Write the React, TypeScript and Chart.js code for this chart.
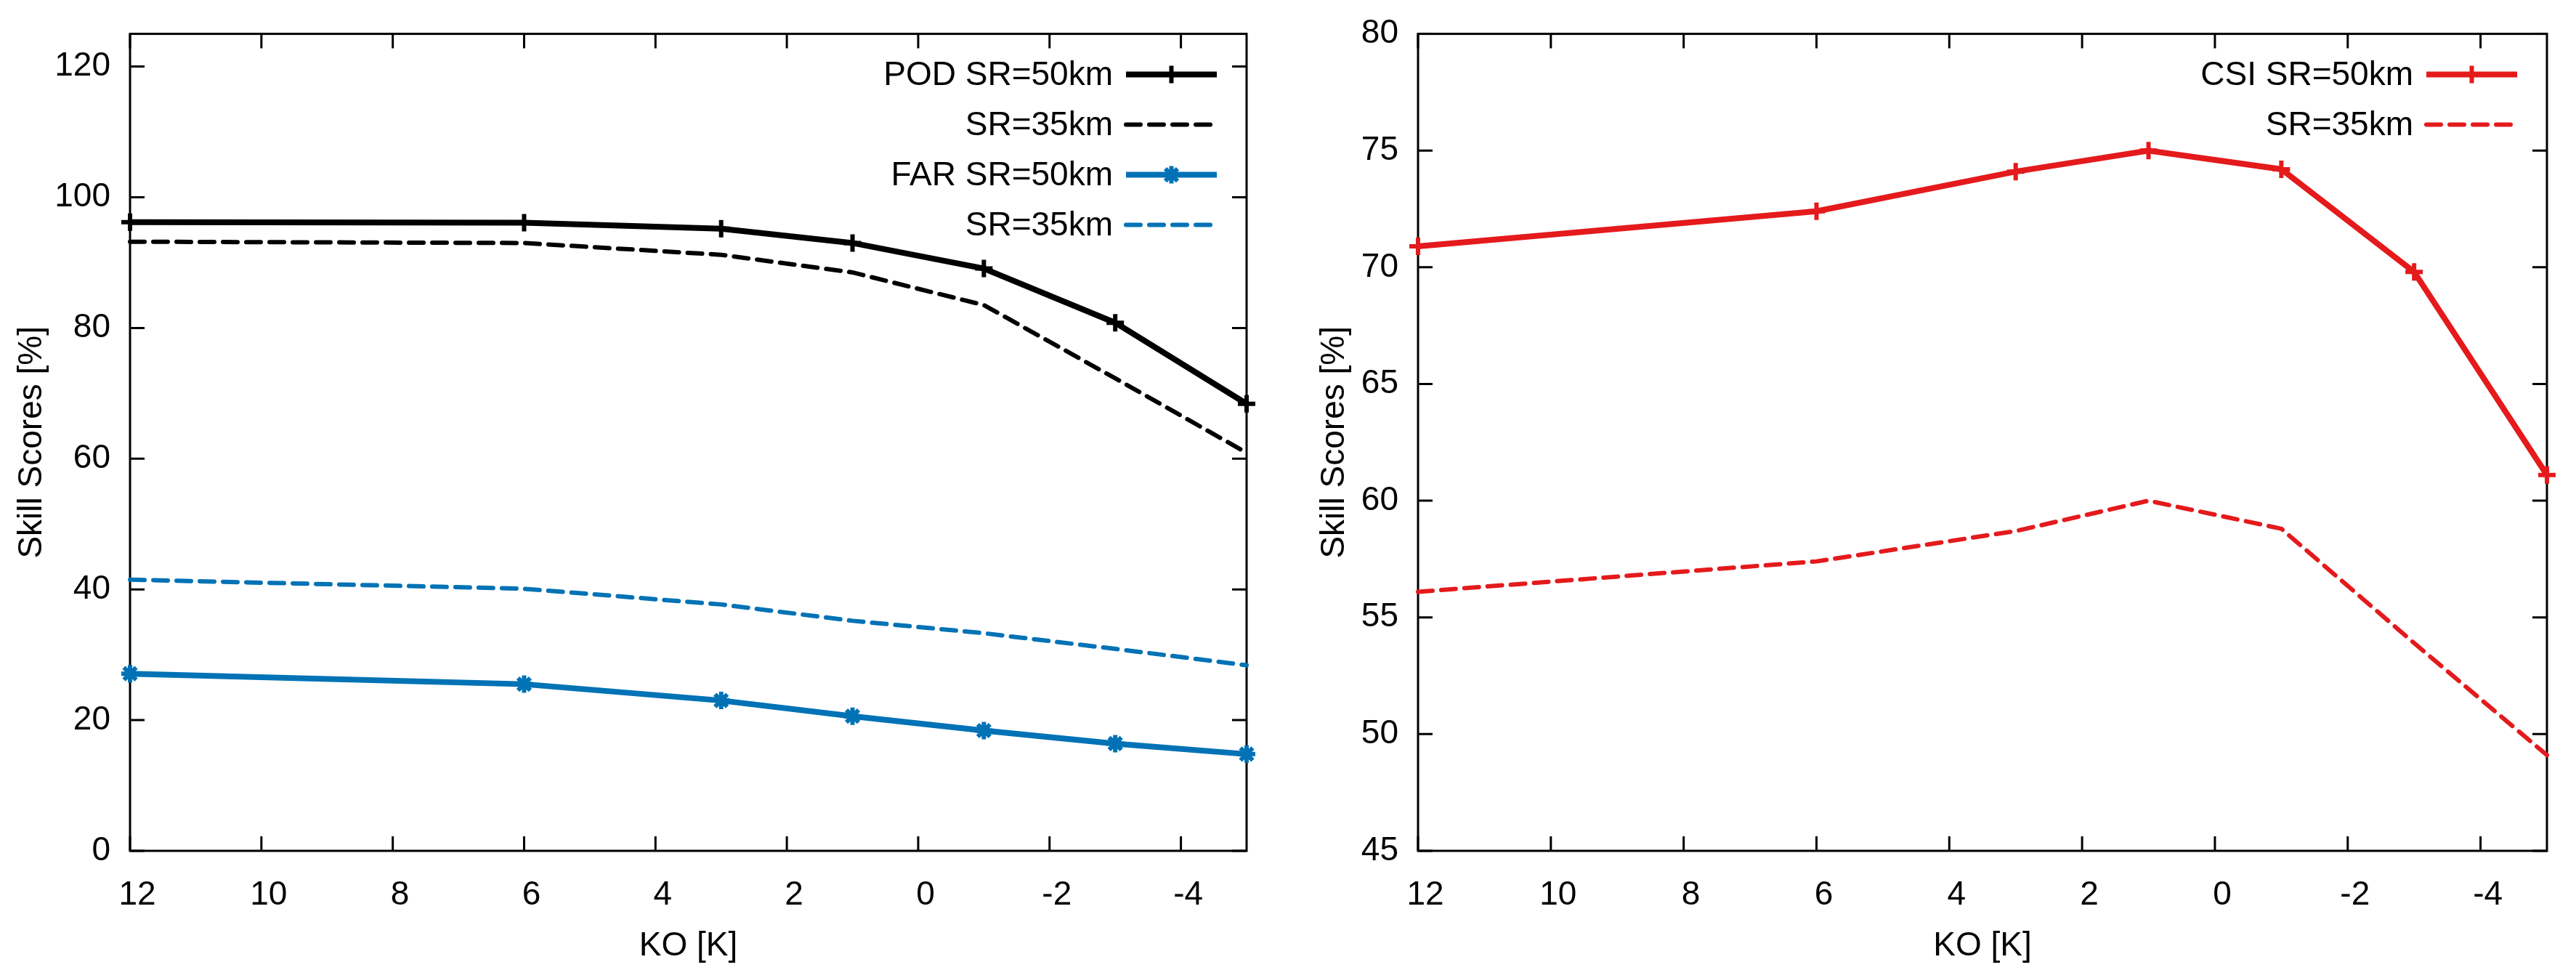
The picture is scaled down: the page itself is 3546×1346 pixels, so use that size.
import { useEffect, useRef } from 'react'
import { Chart, registerables } from 'chart.js'
import { drawPoint } from 'chart.js/helpers'

Chart.register(...registerables)

const FONT = '"Liberation Sans", Arial, Helvetica, sans-serif'
const BLUE = '#0072b5'
const RED = '#e41a1c'

// KO index values (x) shared by every series
const koValues = [12, 6, 3, 1, -1, -3, -5]
const koTicks = [12, 10, 8, 6, 4, 2, 0, -2, -4]

// left panel: POD / FAR
const podSr50 = [96.2, 96.1, 95.2, 93.0, 89.1, 80.8, 68.4]
const podSr35 = [93.2, 93.0, 91.2, 88.5, 83.5, 72.3, 60.9]
const farSr50 = [27.1, 25.5, 23.0, 20.6, 18.4, 16.4, 14.8]
const farSr35 = [41.5, 40.1, 37.7, 35.2, 33.3, 30.9, 28.4]
const leftTicks = [0, 20, 40, 60, 80, 100, 120]

// right panel: CSI
const csiSr50 = [70.9, 72.4, 74.1, 75.0, 74.2, 69.8, 61.1]
const csiSr35 = [56.1, 57.4, 58.7, 60.0, 58.8, 53.9, 49.1]
const rightTicks = [45, 50, 55, 60, 65, 70, 75, 80]

const pts = (vals: number[]) => koValues.map((k, i) => ({ x: k, y: vals[i] }))

const solid = (label: string, vals: number[], color: string, pointStyle: string) => ({
  label,
  data: pts(vals),
  borderColor: color,
  backgroundColor: color,
  borderWidth: 8,
  pointStyle,
  pointRadius: 12,
  pointBorderWidth: 6,
  pointBorderColor: color,
  clip: false as const,
})

const dashed = (label: string, vals: number[], color: string) => ({
  label,
  data: pts(vals),
  borderColor: color,
  borderWidth: 6,
  borderDash: [20, 12],
  borderCapStyle: 'round' as const,
  pointRadius: 0,
  clip: false as const,
})

// gnuplot style frame: border + inward ticks on all four sides
const framePlugin = {
  id: 'frame',
  beforeDatasetsDraw(chart: any) {
    const { ctx, chartArea: a, scales } = chart
    const x = scales.x
    const y = scales.y
    ctx.save()
    ctx.strokeStyle = '#000'
    ctx.lineWidth = 3
    ctx.beginPath()
    x.ticks.forEach((t: any) => {
      const px = x.getPixelForValue(t.value)
      ctx.moveTo(px, a.bottom); ctx.lineTo(px, a.bottom - 20)
      ctx.moveTo(px, a.top); ctx.lineTo(px, a.top + 20)
    })
    y.ticks.forEach((t: any) => {
      const py = y.getPixelForValue(t.value)
      ctx.moveTo(a.left, py); ctx.lineTo(a.left + 20, py)
      ctx.moveTo(a.right, py); ctx.lineTo(a.right - 20, py)
    })
    ctx.stroke()
    ctx.strokeRect(a.left, a.top, a.right - a.left, a.bottom - a.top)
    ctx.restore()
  },
}

// key in the top right corner: text right-aligned, sample line after it
const keyPlugin = {
  id: 'gnuKey',
  afterDatasetsDraw(chart: any) {
    const { ctx, chartArea: a } = chart
    ctx.save()
    ctx.font = `46px ${FONT}`
    ctx.textAlign = 'right'
    ctx.textBaseline = 'middle'
    chart.data.datasets.forEach((ds: any, i: number) => {
      const cy = a.top + 56 + i * 69
      ctx.fillStyle = '#000'
      ctx.fillText(ds.label, a.right - 184, cy + 2)
      const x1 = a.right - 166
      const x2 = a.right - 41
      ctx.strokeStyle = ds.borderColor
      ctx.lineWidth = ds.borderWidth
      ctx.lineCap = ds.borderCapStyle || 'butt'
      ctx.setLineDash(ds.borderDash || [])
      ctx.beginPath()
      ctx.moveTo(x1, cy)
      ctx.lineTo(x2, cy)
      ctx.stroke()
      ctx.setLineDash([])
      if (ds.pointRadius > 0) {
        ctx.lineWidth = ds.pointBorderWidth
        ctx.fillStyle = ds.borderColor
        drawPoint(ctx, {
          pointStyle: ds.pointStyle,
          rotation: 0,
          radius: ds.pointRadius,
          borderWidth: ds.pointBorderWidth,
        }, (x1 + x2) / 2, cy)
      }
    })
    ctx.restore()
  },
}

function makeConfig(
  datasets: any[], yMin: number, yMax: number, yTicks: number[],
  padRight: number, padTop: number, titlePad: number,
): any {
  return {
    type: 'line',
    data: { datasets },
    plugins: [framePlugin, keyPlugin],
    options: {
      responsive: true,
      maintainAspectRatio: false,
      animation: false,
      devicePixelRatio: 1,
      layout: { padding: { left: 0, top: padTop, right: padRight, bottom: 0 } },
      plugins: { legend: { display: false }, tooltip: { enabled: false } },
      elements: { line: { tension: 0 } },
      scales: {
        x: {
          type: 'linear',
          reverse: true,
          min: -5,
          max: 12,
          grid: { display: false },
          border: { display: false },
          afterBuildTicks: (s: any) => { s.ticks = koTicks.map((v) => ({ value: v })) },
          afterFit: (s: any) => { s.height = 175 },
          ticks: {
            color: '#000',
            font: { size: 46, family: FONT },
            padding: 26,
            labelOffset: 10,
            maxRotation: 0,
            autoSkip: false,
            callback: (v: number) => String(v),
          },
          title: {
            display: true,
            text: 'KO [K]',
            color: '#000',
            font: { size: 46, family: FONT },
            padding: { top: 0, bottom: 16 },
          },
        },
        y: {
          type: 'linear',
          min: yMin,
          max: yMax,
          grid: { display: false },
          border: { display: false },
          afterBuildTicks: (s: any) => { s.ticks = yTicks.map((v) => ({ value: v })) },
          afterFit: (s: any) => { s.width = 179 },
          ticks: {
            color: '#000',
            font: { size: 46, family: FONT },
            padding: 19,
            callback: (v: number) => String(v),
          },
          title: {
            display: true,
            text: 'Skill Scores [%]',
            color: '#000',
            font: { size: 46, family: FONT },
            padding: { top: titlePad, bottom: 0 },
          },
        },
      },
    },
  }
}

function Panel({ config }: { config: () => any }) {
  const canvasRef = useRef<HTMLCanvasElement>(null)
  useEffect(() => {
    if (!canvasRef.current) return
    const chart = new Chart(canvasRef.current, config())
    return () => { chart.destroy() }
  }, [config])
  return (
    <div style={{ position: 'relative', width: 1773, height: 1346 }}>
      <canvas ref={canvasRef} />
    </div>
  )
}

const leftConfig = () =>
  makeConfig(
    [
      solid('POD SR=50km', podSr50, '#000', 'cross'),
      dashed('SR=35km', podSr35, '#000'),
      solid('FAR SR=50km', farSr50, BLUE, 'star'),
      dashed('SR=35km', farSr35, BLUE),
    ],
    0, 125, leftTicks, 57, 41, 17,
  )

const rightConfig = () =>
  makeConfig(
    [
      solid('CSI SR=50km', csiSr50, RED, 'cross'),
      dashed('SR=35km', csiSr35, RED),
    ],
    45, 80, rightTicks, 40, 41, 37,
  )

export default function App() {
  return (
    <div style={{ position: 'absolute', left: 0, top: 0, width: 3546, height: 1346, display: 'flex', background: '#fff' }}>
      <Panel config={leftConfig} />
      <Panel config={rightConfig} />
    </div>
  )
}
